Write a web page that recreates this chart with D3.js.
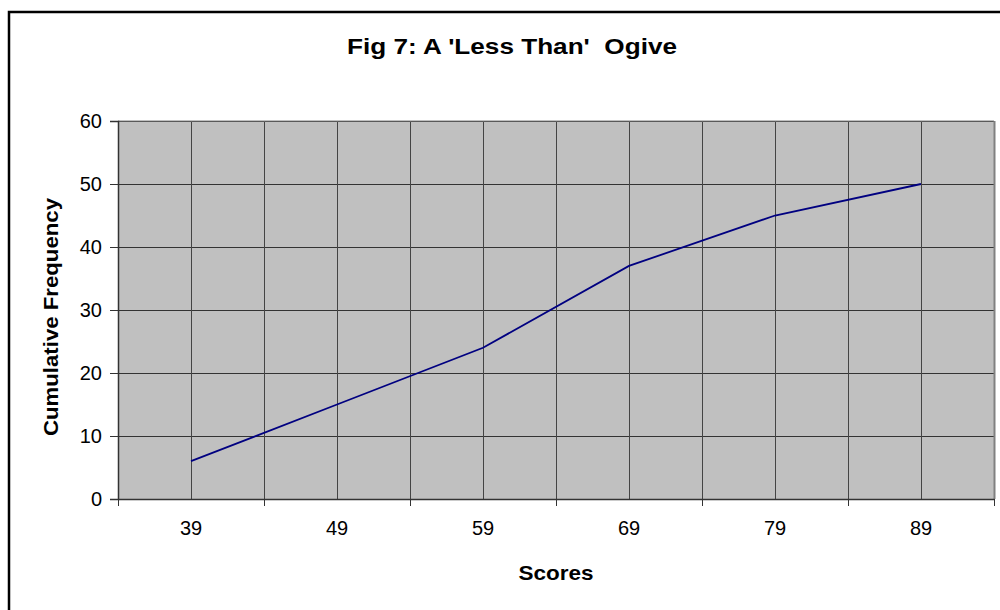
<!DOCTYPE html>
<html><head><meta charset="utf-8">
<script src="https://cdn.jsdelivr.net/npm/d3@7"></script>
<style>body{margin:0;background:#fff}svg{display:block;font-family:"Liberation Sans",Arial,sans-serif}</style>
</head><body><svg id="c" width="1000" height="610"></svg>
<script>
const categories = ["39","49","59","69","79","89"];
const cumFreq = [6,15,24,37,45,50];
const yTicks = [0,10,20,30,40,50,60];
const title = "Fig 7: A 'Less Than'  Ogive";
const xTitle = "Scores";
const yTitle = "Cumulative Frequency";

const svg = d3.select("#c");
const L=118,R=994,T=121,B=499;
svg.append("rect").attr("x",9).attr("y",12).attr("width",1000).attr("height",610)
  .attr("fill","#fff").attr("stroke","#000").attr("stroke-width",2.5);

const x = d3.scaleBand().domain(categories).range([L,R]).padding(0);
const y = d3.scaleLinear().domain([0,60]).range([B,T]);

svg.append("rect").attr("x",L).attr("y",T).attr("width",R-L).attr("height",B-T).attr("fill","#C0C0C0");

// horizontal gridlines
svg.append("g").selectAll("line").data(yTicks.filter(d=>d>0)).join("line")
  .attr("x1",L).attr("x2",R).attr("y1",d=>Math.round(y(d))+0.5).attr("y2",d=>Math.round(y(d))+0.5)
  .attr("stroke","#333").attr("stroke-width",1);
// vertical gridlines at band edges and centers
const vx = [];
categories.forEach((c,i)=>{ if(i>0) vx.push(x(c)); vx.push(x(c)+x.bandwidth()/2); });
svg.append("g").selectAll("line").data(vx).join("line")
  .attr("x1",d=>Math.round(d)+0.5).attr("x2",d=>Math.round(d)+0.5).attr("y1",T).attr("y2",B)
  .attr("stroke","#444").attr("stroke-width",1);
// plot border right/top
svg.append("line").attr("x1",R+0.5).attr("x2",R+0.5).attr("y1",T).attr("y2",B).attr("stroke","#808080").attr("stroke-width",2);
svg.append("line").attr("x1",L).attr("x2",R).attr("y1",T).attr("y2",T).attr("stroke","#808080").attr("stroke-width",1);

// y axis
const yAxis = d3.axisLeft(y).tickValues(yTicks).tickSize(8).tickPadding(8);
const gy = svg.append("g").attr("transform",`translate(${L},0)`).call(yAxis);
gy.attr("font-family",null).attr("font-size",null);
gy.select(".domain").attr("stroke","#333").attr("stroke-width",1.5);
gy.selectAll(".tick line").attr("stroke","#333");
gy.selectAll("text").style("font-size","20px").attr("fill","#000");

// x axis
const xAxis = d3.axisBottom(x).tickSize(0).tickPadding(22);
const gx = svg.append("g").attr("transform",`translate(0,${B})`).call(xAxis);
gx.attr("font-family",null).attr("font-size",null);
gx.select(".domain").attr("stroke","#333").attr("stroke-width",1.5);
gx.selectAll("text").style("font-size","20px").attr("fill","#000");
const edges = categories.map(c=>x(c)).concat([R]);
svg.append("g").selectAll("line").data(edges).join("line")
  .attr("x1",d=>Math.round(d)+0.5).attr("x2",d=>Math.round(d)+0.5).attr("y1",B).attr("y2",B+7)
  .attr("stroke","#333");

// line
const line = d3.line().x((d,i)=>x(categories[i])+x.bandwidth()/2).y(d=>y(d));
svg.append("path").datum(cumFreq).attr("d",line).attr("fill","none").attr("stroke","#000080").attr("stroke-width",1.8);

svg.append("text").attr("x",512).attr("y",54).attr("text-anchor","middle").attr("font-weight","bold")
  .style("font-size","22px").style("white-space","pre").attr("textLength",330).attr("lengthAdjust","spacingAndGlyphs").text(title);
svg.append("text").attr("x",556).attr("y",580).attr("text-anchor","middle").attr("font-weight","bold")
  .style("font-size","21px").attr("textLength",75).attr("lengthAdjust","spacingAndGlyphs").text(xTitle);
svg.append("text").attr("transform","translate(58,317) rotate(-90)").attr("text-anchor","middle").attr("font-weight","bold")
  .style("font-size","21px").attr("textLength",238).attr("lengthAdjust","spacingAndGlyphs").text(yTitle);
</script></body></html>
